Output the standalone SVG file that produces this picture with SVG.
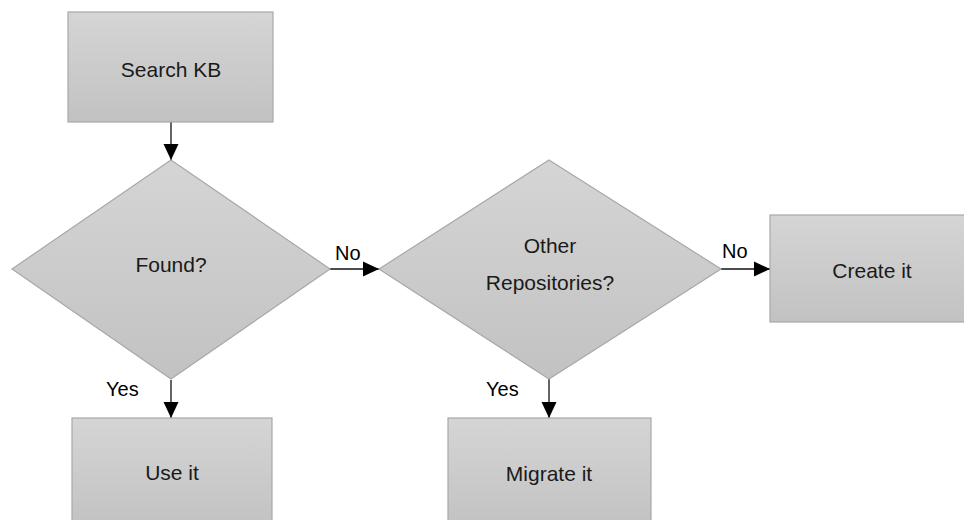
<svg xmlns="http://www.w3.org/2000/svg" width="964" height="520" viewBox="0 0 964 520">
  <defs>
    <linearGradient id="shapeFill" x1="0" y1="0" x2="0" y2="1">
      <stop offset="0" stop-color="#d5d5d5"/>
      <stop offset="1" stop-color="#c2c2c2"/>
    </linearGradient>
    <marker id="arrow" viewBox="0 0 16 16" refX="16" refY="8" markerWidth="16" markerHeight="16" markerUnits="userSpaceOnUse" orient="auto">
      <path d="M0,0.5 L16,8 L0,15.5 Z" fill="#000"/>
    </marker>
  </defs>
  <style>
    .shape { fill: url(#shapeFill); stroke: #a8a8a8; stroke-width: 1.2; }
    .label { font-family: "Liberation Sans", Arial, sans-serif; font-size: 21px; fill: #1a1a1a; text-anchor: middle; }
    .edge-label { font-family: "Liberation Sans", Arial, sans-serif; font-size: 20px; fill: #000; }
    .edge { stroke: #111; stroke-width: 1.3; fill: none; marker-end: url(#arrow); }
  </style>
  <rect width="964" height="520" fill="#fff"/>

  <g id="connectors">
    <line class="edge" x1="171" y1="122" x2="171" y2="160"/>
    <line class="edge" x1="330" y1="269" x2="379" y2="269"/>
    <line class="edge" x1="721" y1="269" x2="770" y2="269"/>
    <line class="edge" x1="171" y1="380" x2="171" y2="418"/>
    <line class="edge" x1="549" y1="379" x2="549" y2="418"/>
    <text class="edge-label" x="335" y="260">No</text>
    <text class="edge-label" x="722" y="258">No</text>
    <text class="edge-label" x="106" y="396">Yes</text>
    <text class="edge-label" x="486" y="396">Yes</text>
  </g>

  <g id="search-kb">
    <rect class="shape" x="68" y="12" width="205" height="110"/>
    <text class="label" x="171" y="77">Search KB</text>
  </g>

  <g id="found">
    <polygon class="shape" points="171,160 330,269 171,379 12,269"/>
    <text class="label" x="171" y="272">Found?</text>
  </g>

  <g id="other-repositories">
    <polygon class="shape" points="549,160 721,269 549,379 379,269"/>
    <text class="label" x="550" y="253">Other</text>
    <text class="label" x="550" y="290">Repositories?</text>
  </g>

  <g id="create-it">
    <rect class="shape" x="770" y="215" width="204" height="107"/>
    <text class="label" x="872" y="278">Create it</text>
  </g>

  <g id="use-it">
    <rect class="shape" x="72" y="418" width="200" height="110"/>
    <text class="label" x="172" y="480">Use it</text>
  </g>

  <g id="migrate-it">
    <rect class="shape" x="448" y="418" width="203" height="110"/>
    <text class="label" x="549" y="481">Migrate it</text>
  </g>
</svg>
